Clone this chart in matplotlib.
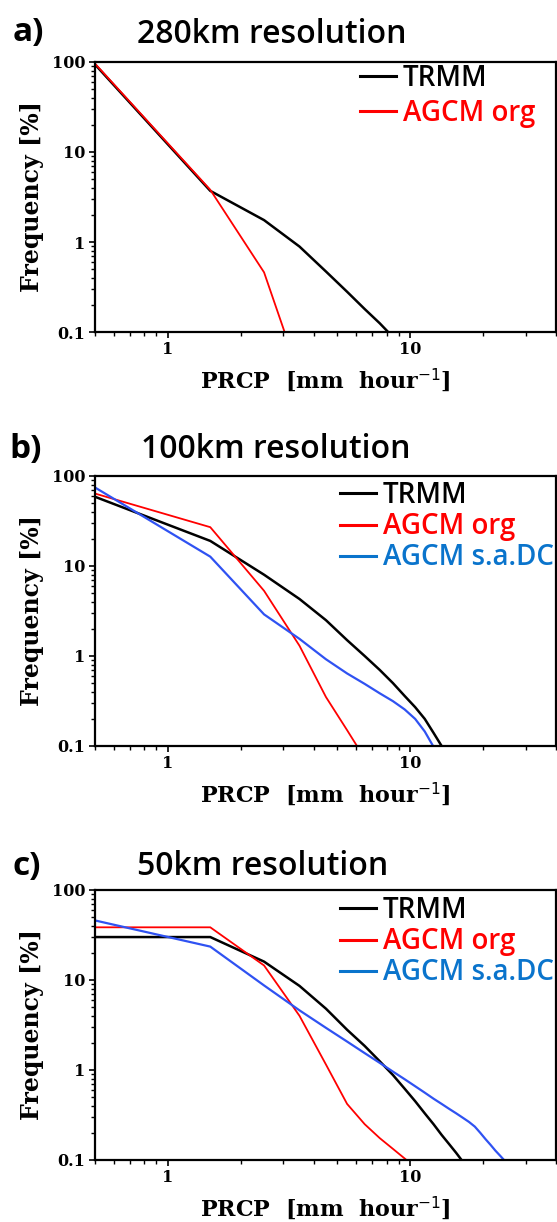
import numpy as np
import matplotlib
matplotlib.use('Agg')
import matplotlib.pyplot as plt
from matplotlib.lines import Line2D
from matplotlib.ticker import LogLocator, NullFormatter, FixedLocator, FixedFormatter

# ============ data ============
# precipitation bins [mm/hour]
bins_a = [0.5, 1.5, 2.5, 3.5, 4.5, 5.5, 6.5, 7.5, 8.5]
trmm_a = [95, 3.7, 1.75, 0.89, 0.47, 0.28, 0.18, 0.125, 0.088]
org_a = [97, 3.8, 0.46, 0.033]

bins_b = [0.5, 1.5, 2.5, 3.5, 4.5, 5.5, 6.5, 7.5, 8.5, 9.5, 10.5, 11.5, 12.5, 13.5, 14.5]
trmm_b = [59, 19, 8.0, 4.3, 2.5, 1.5, 1.0, 0.7, 0.5, 0.36, 0.27, 0.2, 0.14, 0.1, 0.07]
org_b = [64, 27, 5.3, 1.3, 0.35, 0.15, 0.073]
sadc_b = [75, 12.7, 2.9, 1.55, 0.92, 0.64, 0.49, 0.385, 0.315, 0.255, 0.2, 0.145, 0.098]

bins_c = [0.5, 1.5, 2.5, 3.5, 4.5, 5.5, 6.5, 7.5, 8.5, 9.5, 10.5, 11.5, 12.5,
          13.5, 14.5, 15.5, 16.5, 17.5, 18.5, 19.5, 20.5, 21.5, 22.5, 23.5, 24.5]
trmm_c = [30, 30, 16, 8.6, 4.8, 2.8, 1.85, 1.25, 0.88, 0.62, 0.45, 0.33, 0.25,
          0.19, 0.15, 0.12, 0.096]
org_c = [38.5, 38.5, 14.5, 4.0, 1.15, 0.42, 0.25, 0.175, 0.133, 0.104, 0.083]
sadc_c = [46, 23.5, 8.7, 4.6, 2.94, 2.07, 1.54, 1.2, 0.96, 0.79, 0.66, 0.56, 0.48,
          0.42, 0.37, 0.33, 0.295, 0.265, 0.235, 0.2, 0.17, 0.147, 0.127, 0.112, 0.099]

panel_tags = ['a)', 'b)', 'c)']
panel_titles = ['280km resolution', '100km resolution', '50km resolution']
series_names = ['TRMM', 'AGCM org', 'AGCM s.a.DC']
line_colors = ['black', '#ff0000', '#2f52f2']
key_colors = ['black', '#ff0000', '#0a74cc']
line_widths = [1.8, 1.3, 1.6]

y_ticks = [0.1, 1, 10, 100]
y_ticklabels = ['0.1', '1', '10', '100']
x_ticks = [1, 10]
x_ticklabels = ['1', '10']

panels = [
    (bins_a, [trmm_a, org_a]),
    (bins_b, [trmm_b, org_b, sadc_b]),
    (bins_c, [trmm_c, org_c, sadc_c]),
]

# ============ layout (pixels of a 557x1222 canvas) ============
W, H = 557, 1222
ax_left, ax_right = 94.6, 556.0
ax_tops = [62, 476, 890]
ax_h = 270
tag_pos = [(13, 41), (9, 458), (12, 875)]
title_pos = [(137, 43), (141, 458), (137, 875)]
leg_pos = [(360, 64), (340, 481), (340, 896)]
leg_spacing = [0.2, 0.08, 0.08]

serif = {'family': 'DejaVu Serif', 'weight': 'bold'}
sans = ['Open Sans', 'DejaVu Sans']

fig = plt.figure(figsize=(W / 100, H / 100), dpi=100)

for i, (bins, series) in enumerate(panels):
    top = ax_tops[i]
    ax = fig.add_axes([ax_left / W, 1 - (top + ax_h) / H,
                       (ax_right - ax_left) / W, ax_h / H])
    for k, vals in enumerate(series):
        ax.plot(bins[:len(vals)], vals, color=line_colors[k],
                lw=line_widths[k], solid_joinstyle='miter')

    ax.set_xscale('log')
    ax.set_yscale('log')
    ax.set_xlim(0.5, 40)
    ax.set_ylim(0.1, 100)

    ax.yaxis.set_major_locator(FixedLocator(y_ticks))
    ax.yaxis.set_major_formatter(FixedFormatter(y_ticklabels))
    ax.yaxis.set_minor_locator(LogLocator(base=10, subs=np.arange(2, 10)))
    ax.yaxis.set_minor_formatter(NullFormatter())
    ax.xaxis.set_major_locator(FixedLocator(x_ticks))
    ax.xaxis.set_major_formatter(FixedFormatter(x_ticklabels))
    ax.xaxis.set_minor_locator(LogLocator(base=10, subs=np.arange(2, 10)))
    ax.xaxis.set_minor_formatter(NullFormatter())

    ax.tick_params(which='major', direction='out', length=4.5, width=1.2, pad=2)
    ax.tick_params(which='minor', direction='out', length=3, width=1.0)
    for lab in ax.get_xticklabels() + ax.get_yticklabels():
        lab.set_fontfamily(serif['family'])
        lab.set_fontweight('bold')
        lab.set_fontsize(11.5)
    for sp in ax.spines.values():
        sp.set_linewidth(1.6)

    ax.set_ylabel('Frequency [%]', fontdict=serif, fontsize=17, labelpad=6)
    ax.set_xlabel('PRCP  [mm  hour$^{-1}$]', fontdict=serif, fontsize=16, labelpad=6)

    # legend
    handles = [Line2D([], [], color=key_colors[k], lw=2.2) for k in range(len(series))]
    lx, ly = leg_pos[i]
    leg = ax.legend(handles, series_names[:len(series)], loc='upper left',
                    bbox_to_anchor=((lx - ax_left) / (ax_right - ax_left),
                                    (top + ax_h - ly) / ax_h),
                    frameon=False, borderpad=0, borderaxespad=0,
                    handlelength=1.3, handletextpad=0.25, labelspacing=leg_spacing[i],
                    prop={'family': sans, 'weight': 'semibold', 'size': 20})
    for txt, c in zip(leg.get_texts(), key_colors):
        txt.set_color(c)

    tx, ty = tag_pos[i]
    fig.text(tx / W, 1 - ty / H, panel_tags[i], fontsize=24, fontweight='bold',
             family=sans, va='baseline', ha='left')
    tx, ty = title_pos[i]
    fig.text(tx / W, 1 - ty / H, panel_titles[i], fontsize=23, fontweight='semibold',
             family=sans, va='baseline', ha='left')

fig.savefig('out.png', dpi=100)
